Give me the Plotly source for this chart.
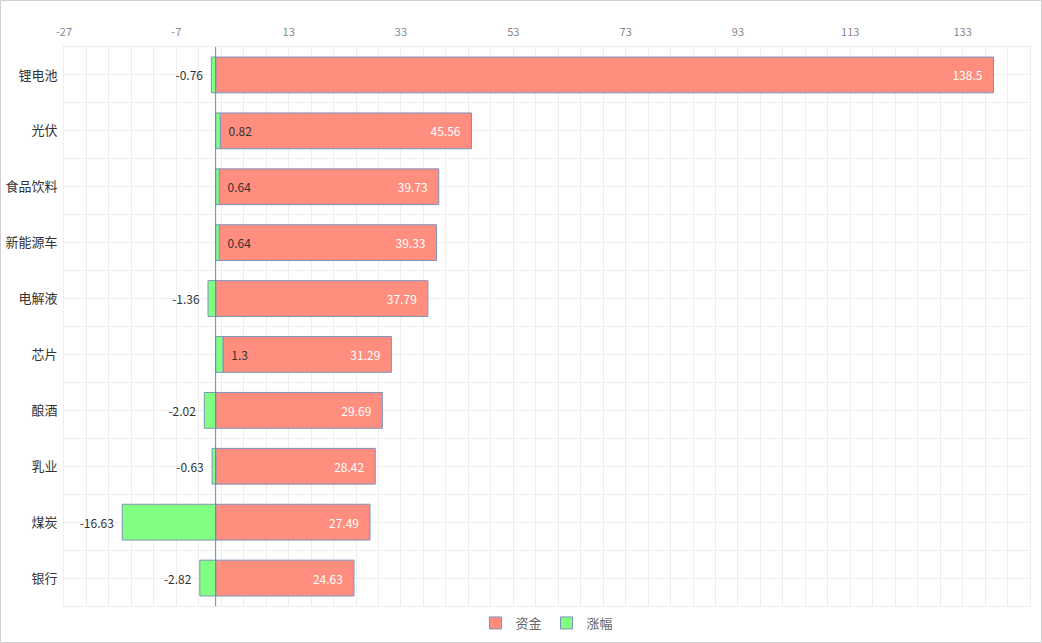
import plotly.graph_objects as go

categories = ["锂电池", "光伏", "食品饮料", "新能源车", "电解液", "芯片", "酿酒", "乳业", "煤炭", "银行"]
fund = [138.5, 45.56, 39.73, 39.33, 37.79, 31.29, 29.69, 28.42, 27.49, 24.63]
change = [-0.76, 0.82, 0.64, 0.64, -1.36, 1.3, -2.02, -0.63, -16.63, -2.82]
x_tick_vals = [-27, -7, 13, 33, 53, 73, 93, 113, 133]
x_tick_text = ["-27", "-7", "13", "33", "53", "73", "93", "113", "133"]

ypos = list(range(len(categories)))
fund_base = [max(c, 0) for c in change]
fund_len = [f - b for f, b in zip(fund, fund_base)]

NB = "\u00a0"
fund_text = [f"{v}{NB * 3}" for v in fund]
change_text = [(f"{v}{NB * 2}" if v < 0 else f"{NB * 2}{v}") for v in change]

FONT = "Noto Sans CJK SC, Open Sans, sans-serif"
EDGE = "#7d93bd"

fig = go.Figure()
fig.add_trace(go.Bar(
    name="资金", y=ypos, x=fund_len, base=fund_base, orientation="h",
    marker=dict(color="#ff8e7e", line=dict(color=EDGE, width=1)),
    width=0.64,
    text=fund_text, texttemplate="%{text}",
    textposition="inside", insidetextanchor="end",
    textfont=dict(color="white", size=12, family=FONT),
    hoverinfo="skip",
))
fig.add_trace(go.Bar(
    name="涨幅", y=ypos, x=change, orientation="h",
    marker=dict(color="#80ff80", line=dict(color=EDGE, width=1)),
    width=0.64,
    text=change_text, texttemplate="%{text}",
    textposition="outside",
    textfont=dict(color="#333333", size=12, family=FONT),
    cliponaxis=False,
    hoverinfo="skip",
))

fig.add_shape(type="line", xref="x", yref="paper", x0=0, x1=0, y0=0, y1=1,
              line=dict(color="#4a90d9", width=1), layer="above")

W, H = 1042, 643
ml, mr, mt, mb = 64, 12, 47, 37
pw, ph = W - ml - mr, H - mt - mb
fig.add_shape(type="rect", xref="paper", yref="paper",
              x0=-(ml - 0.5) / pw, x1=1 + (mr - 0.5) / pw,
              y0=-(mb - 0.5) / ph, y1=1 + (mt - 0.5) / ph,
              line=dict(color="#d0d0d0", width=1), layer="below")

fig.update_layout(
    width=W, height=H,
    margin=dict(l=ml, r=mr, t=mt, b=mb, autoexpand=False),
    paper_bgcolor="white", plot_bgcolor="white",
    barmode="overlay",
    font=dict(family=FONT, color="#333333"),
    showlegend=True,
    legend=dict(orientation="h", x=0.5, xanchor="center", y=-(623 - 606) / ph,
                yanchor="middle", font=dict(size=13, color="#666666"),
                itemwidth=30, tracegroupgap=0),
    xaxis=dict(side="top", range=[-27, 145], tickvals=x_tick_vals, ticktext=x_tick_text,
               showgrid=True, gridcolor="#eeeeee", gridwidth=1,
               minor=dict(dtick=4, tick0=-27, showgrid=True, gridcolor="#eeeeee", gridwidth=1),
               zeroline=False, showline=True, linecolor="#eeeeee", mirror=True,
               automargin=False,
               tickfont=dict(size=11, color="#8a8a8a"), ticks="", ticklabelstandoff=6),
    yaxis=dict(range=[9.5, -0.5], tickvals=ypos, ticktext=categories,
               showgrid=True, gridcolor="#eeeeee", gridwidth=1,
               minor=dict(dtick=1, tick0=0.5, showgrid=True, gridcolor="#eeeeee", gridwidth=1),
               zeroline=False, showline=True, linecolor="#eeeeee", mirror=True,
               automargin=False,
               tickfont=dict(size=13, color="#333333"), ticks="", ticklabelstandoff=3),
)

fig.write_html("out.html", config={"displayModeBar": False},
               post_script="document.body.style.margin='0';")
